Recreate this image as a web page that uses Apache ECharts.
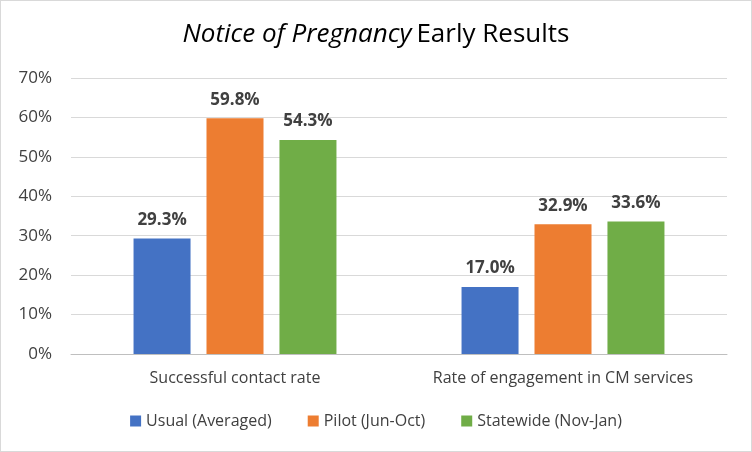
<!DOCTYPE html>
<html><head><meta charset="utf-8">
<script src="https://cdn.jsdelivr.net/npm/echarts@6/dist/echarts.min.js"></script>
<style>html,body{margin:0;padding:0;background:#fff}#c{width:752px;height:452px;box-sizing:border-box;border:1px solid #d9d9d9}</style>
</head><body><div id="c"></div>
<script>
var categories = ['Successful contact rate', 'Rate of engagement in CM services'];
var usual = [29.3, 17.0];
var pilot = [59.8, 32.9];
var statewide = [54.3, 33.6];
var seriesNames = ['Usual (Averaged)', 'Pilot (Jun-Oct)', 'Statewide (Nov-Jan)'];
var colors = ['#4472C4', '#ED7D31', '#70AD47'];
var font = '"Open Sans", "Noto Sans", sans-serif';
var chart = echarts.init(document.getElementById('c'));
function mk(name, data, color) {
  return {
    name: name, type: 'bar', data: data, barWidth: 57, barGap: '28%',
    itemStyle: {color: color},
    label: {show: true, position: 'top', distance: 10, formatter: function(p){return p.value.toFixed(1) + '%';},
      fontFamily: font, fontWeight: 'bold', fontSize: 17, color: '#404040'}
  };
}
chart.setOption({
  animation: false,
  title: {text: '{i|Notice of Pregnancy} {n|Early Results}', left: 'center', top: 16,
    textStyle: {rich: {i: {fontFamily: font, fontStyle: 'italic', fontWeight: 'normal', fontSize: 26, color: '#000'},
      n: {fontFamily: font, fontWeight: 'normal', fontSize: 26, color: '#000'}}}},
  legend: {bottom: 17, left: 'center', itemWidth: 11, itemHeight: 11, itemGap: 36, icon: 'rect',
    textStyle: {fontFamily: font, fontSize: 16, color: '#404040'}, data: seriesNames},
  grid: {left: 70, right: 24, top: 77, bottom: 97, containLabel: false},
  xAxis: {type: 'category', data: categories,
    axisLine: {lineStyle: {color: '#bfbfbf'}}, axisTick: {show: false},
    axisLabel: {interval: 0, hideOverlap: false, fontFamily: font, fontSize: 16, color: '#404040', margin: 16}},
  yAxis: {type: 'value', min: 0, max: 70, interval: 10,
    axisLabel: {formatter: '{value}%', fontFamily: font, fontSize: 17, color: '#404040', margin: 19},
    splitLine: {lineStyle: {color: '#d9d9d9'}}, axisLine: {show: false}, axisTick: {show: false}},
  series: [mk(seriesNames[0], usual, colors[0]), mk(seriesNames[1], pilot, colors[1]), mk(seriesNames[2], statewide, colors[2])]
});
</script></body></html>
